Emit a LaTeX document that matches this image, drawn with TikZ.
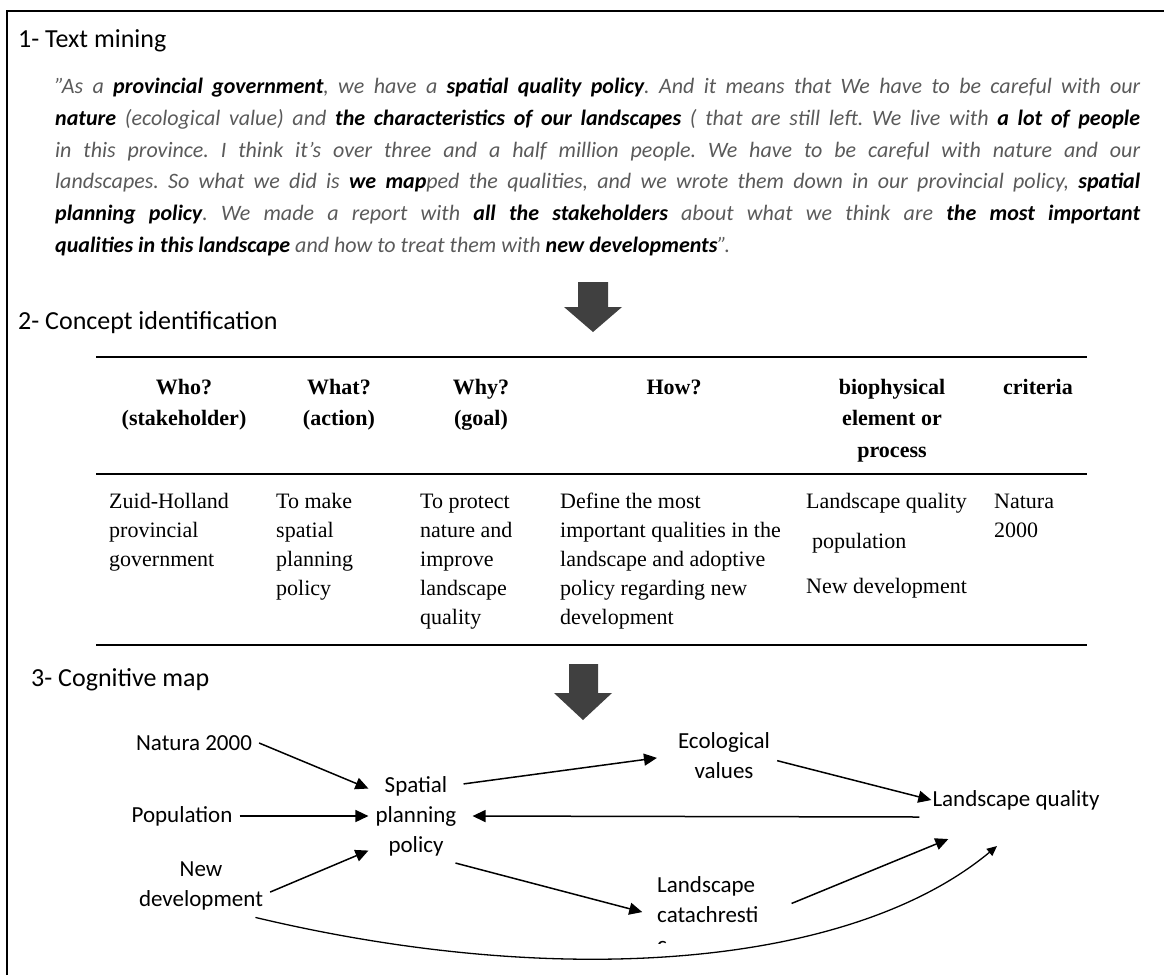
\documentclass[tikz,border=0pt]{standalone}
\usepackage{fontspec}
\setmainfont{Carlito}
\newfontfamily\tnr{Liberation Serif}
\usetikzlibrary{arrows.meta}

\definecolor{quotegray}{HTML}{5A5A5A}
\definecolor{blockgray}{HTML}{404040}
\newcommand{\qkey}[1]{{\bfseries\color{black}#1}}
\newcommand{\dq}{{\char34}}

\tikzset{
  heading/.style={anchor=base west, inner sep=0pt, font=\fontsize{26}{31}\selectfont},
  head/.style={anchor=base, inner sep=0pt, align=center, font=\tnr\bfseries\fontsize{22}{31.5}\selectfont},
  cell/.style={anchor=base west, inner sep=0pt, align=left, font=\tnr\fontsize{22}{29}\selectfont},
  concept/.style={inner sep=7pt, align=center, font=\fontsize{23}{30}\selectfont},
  arr/.style={-{Triangle[length=13pt,width=12pt]}, line width=1.5pt},
  rule/.style={line width=2.5pt},
  blk/.style={fill=blockgray}
}

\begin{document}
\begin{tikzpicture}[x=1pt,y=-1pt]
\useasboundingbox (0,0) rectangle (1164,975);
\draw[line width=2.5pt] (7,975) -- (7,11) -- (1164,11);

% 1- text mining
\node[heading] (h1) at (18,47) {1- Text mining};
\node[anchor=base west, inner sep=0pt, text width=1085pt, align=justify, text=quotegray, font=\frenchspacing\itshape\fontsize{22}{31.8}\selectfont] (quote) at (55,93.5) {\dq As a \qkey{provincial government}, we have a \qkey{spatial quality policy}. And it means that We have to be careful with our\linebreak
\qkey{nature} (ecological value) and \qkey{the characteristics of our landscapes} ( that are still left. We live with \qkey{a lot of people}\linebreak
in this province. I think it's over three and a half million people. We have to be careful with nature and our\linebreak
landscapes. So what we did is \qkey{we map}ped the qualities, and we wrote them down in our provincial policy, \qkey{spatial}\linebreak
\qkey{planning policy}. We made a report with \qkey{all the stakeholders} about what we think are \qkey{the most important}\linebreak
\qkey{qualities in this landscape} and how to treat them with \qkey{new developments}\dq.};

\fill[blk] (578,282) -- (608,282) -- (608,307) -- (622,307) -- (593,332) -- (564,307) -- (578,307) -- cycle;

% 2- concept identification
\node[heading] (h2) at (18,329) {2- Concept identification};
\draw[rule] (96,357) -- (1087,357);
\draw[rule] (96,474) -- (1087,474);
\draw[rule] (96,645) -- (1087,645);

% multi-line nodes sit on their last line
\node[head] (who) at (184,425.5) {Who?\\(stakeholder)};
\node[head] (what) at (339,425.5) {What?\\(action)};
\node[head] (why) at (481,425.5) {Why?\\(goal)};
\node[head] (how) at (674,394) {How?};
\node[head] (bio) at (892,457) {biophysical\\element or\\process};
\node[head] (crit) at (1038,394) {criteria};

\node[cell] (c1) at (109,566) {Zuid-Holland\\provincial\\government};
\node[cell] (c2) at (276,595) {To make\\spatial\\planning\\policy};
\node[cell] (c3) at (420,624) {To protect\\nature and\\improve\\landscape\\quality};
\node[cell] (c4) at (560,624) {Define the most\\important qualities in the\\landscape and adoptive\\policy regarding new\\development};
\node[cell] (c5a) at (806,508) {Landscape quality};
\node[cell] (c5b) at (812,548) {population};
\node[cell] (c5c) at (806,593) {New development};
\node[cell] (c6) at (994,537) {Natura\\2000};

\fill[blk] (569,664) -- (598,664) -- (598,693) -- (612,693) -- (583,720) -- (554,693) -- (569,693) -- cycle;

% 3- cognitive map
\node[heading] (h3) at (31,686) {3- Cognitive map};
\node[concept] (nat) at (194,743) {Natura 2000};
\node[concept] (pop) at (182,816) {Population};
\node[concept] (dev) at (201,886) {New\\development};
\node[concept] (spp) at (416,816) {Spatial\\planning\\policy};
\node[concept] (eco) at (724,756) {Ecological\\values};
\node[concept, inner sep=1pt] (lq) at (1016,800) {Landscape quality};
\begin{scope}
\clip (600,860) rectangle (800,943);
\node[concept, align=left, anchor=base west] (catach) at (650,952) {Landscape\\catachresti\\c};
\end{scope}

\draw[arr] (nat.east) -- (spp.150);
\draw[arr] (pop.east) -- (spp.west);
\draw[arr] (dev.-5) -- (spp.216);
\draw[arr, shorten >=14pt] (spp.34) -- (eco.west);
\draw[arr] (eco.-5) -- (lq.west);
\draw[arr, shorten >=9pt] ([shift={(-12,17)}]lq.west) -- (spp.east);
\draw[arr, shorten >=8pt] (spp.-50) -- (catach.west);
\draw[arr, shorten <=28pt] (catach.east) -- ([shift={(17,28)}]lq.south west);
\draw[line width=1.3pt, -{Triangle[length=10pt,width=9pt]}] (dev.-30) .. controls (560,990) and (850,968) .. ([shift={(-19,35)}]lq.south);
\end{tikzpicture}
\end{document}
